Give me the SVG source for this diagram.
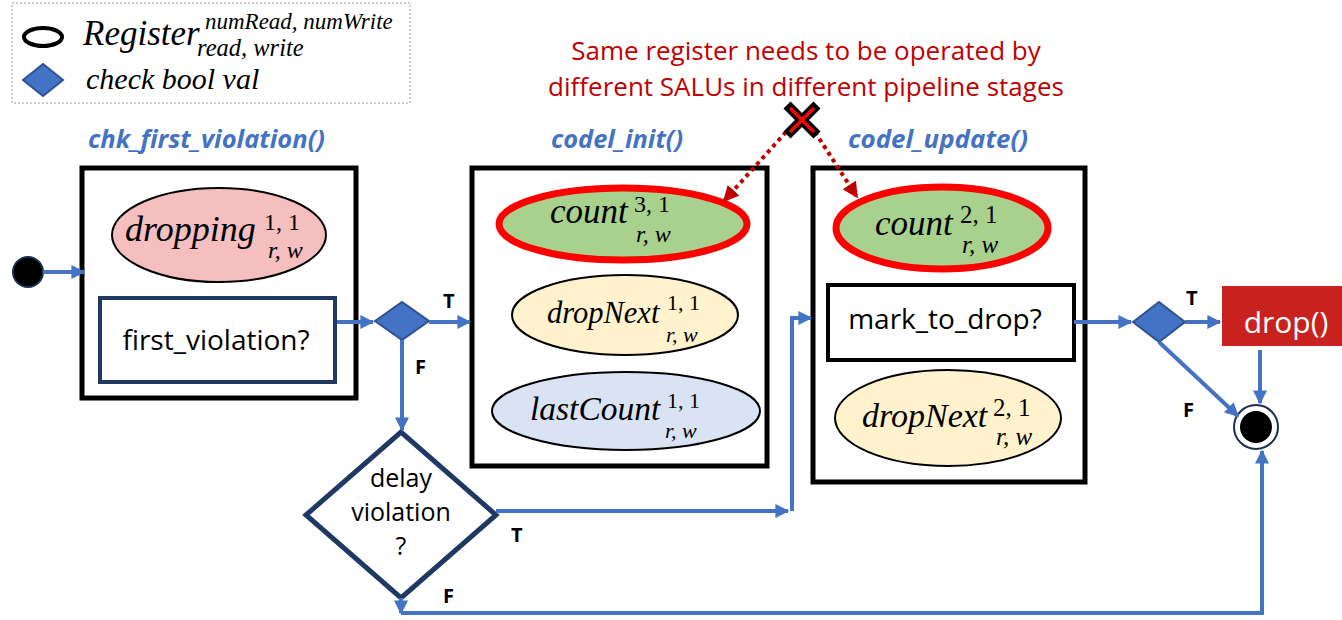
<svg xmlns="http://www.w3.org/2000/svg" width="1342" height="620" viewBox="0 0 1342 620">
  <defs>
    <marker id="arrowBlue" viewBox="0 0 10 10" refX="9" refY="5" markerUnits="userSpaceOnUse" markerWidth="15" markerHeight="14" orient="auto">
      <path d="M0,0 L10,5 L0,10 z" fill="#4472C4"/>
    </marker>
    <marker id="arrowRed" viewBox="0 0 10 10" refX="9" refY="5" markerUnits="userSpaceOnUse" markerWidth="16" markerHeight="16" orient="auto">
      <path d="M0,0 L10,5 L0,10 z" fill="#C00000"/>
    </marker>
  </defs>
  <style>
    .box{fill:#fff;stroke:#000;stroke-width:5}
    .reg{stroke:#000;stroke-width:2}
    .hot{stroke:#FF0000;stroke-width:7}
    .math{font-family:"Liberation Serif","Times New Roman",serif;font-style:italic;fill:#000}
    .up{font-style:normal}
    .sans{font-family:"Open Sans","Liberation Sans",sans-serif;fill:#000}
    .note{font-family:"Open Sans","Liberation Sans",sans-serif;fill:#C00000;font-size:26px}
    .fn{font-family:"Open Sans","Liberation Sans",sans-serif;font-weight:bold;font-style:italic;fill:#4472C4;font-size:25px}
    .flow{fill:none;stroke:#4472C4;stroke-width:4}
    .tf{font-family:"Open Sans","Liberation Sans",sans-serif;font-weight:bold;font-size:20px;fill:#000}
    .chk{fill:#4472C4;stroke:#2F528F;stroke-width:2}
    .conflict{fill:none;stroke:#C00000;stroke-width:4;stroke-dasharray:4 4}
  </style>

  <!-- legend -->
  <g id="legend">
    <rect x="12" y="3" width="398" height="100" fill="#fff" stroke="#9a9a9a" stroke-width="1" stroke-dasharray="2 2"/>
    <ellipse cx="43" cy="37" rx="19" ry="9" fill="#fff" stroke="#000" stroke-width="4"/>
    <text class="math" x="83" y="45" font-size="35">Register</text>
    <text class="math" x="205" y="29" font-size="23">numRead, numWrite</text>
    <text class="math" x="197" y="56" font-size="24.5">read, write</text>
    <polygon points="23,80 43,64 63,80 43,96" class="chk"/>
    <text class="math" x="86" y="89" font-size="30">check bool val</text>
  </g>

  <!-- conflict note -->
  <g id="note">
    <text class="note" x="806" y="60" text-anchor="middle">Same register needs to be operated by</text>
    <text class="note" x="806" y="96" text-anchor="middle">different SALUs in different pipeline stages</text>
  </g>

  <!-- function labels -->
  <text class="fn" x="88" y="148" textLength="237" lengthAdjust="spacingAndGlyphs">chk_first_violation()</text>
  <text class="fn" x="551" y="148" textLength="132" lengthAdjust="spacingAndGlyphs">codel_init()</text>
  <text class="fn" x="848" y="148" textLength="180" lengthAdjust="spacingAndGlyphs">codel_update()</text>

  <!-- start node -->
  <g id="start">
    <circle cx="28" cy="272" r="15" fill="#000" stroke="#1F2D4F" stroke-width="2"/>
  </g>

  <!-- stage 1 -->
  <g id="chk_first_violation">
    <rect class="box" x="82" y="168" width="274" height="230"/>
    <ellipse class="reg" cx="219" cy="235" rx="107" ry="47" fill="#F5BFBF"/>
    <text class="math" x="125" y="241" font-size="36">dropping</text>
    <text class="math up" x="264" y="230" font-size="24">1, 1</text>
    <text class="math" x="268" y="258" font-size="24">r, w</text>
    <rect x="100" y="298" width="235" height="84" fill="#fff" stroke="#203864" stroke-width="4"/>
    <text class="sans" x="216" y="350" font-size="28" text-anchor="middle">first_violation?</text>
  </g>

  <g id="check1">
    <polygon points="375,321 402,302 429,321 402,340" class="chk"/>
  </g>

  <g id="delay_violation">
    <polygon points="306,515 401,432 496,515 401,598" fill="#fff" stroke="#203864" stroke-width="5"/>
    <text class="sans" x="401" y="487" font-size="25" text-anchor="middle">delay</text>
    <text class="sans" x="401" y="521" font-size="25" text-anchor="middle">violation</text>
    <text class="sans" x="401" y="555" font-size="25" text-anchor="middle">?</text>
  </g>

  <!-- stage 2 -->
  <g id="codel_init">
    <rect class="box" x="472" y="168" width="295" height="298"/>
    <ellipse class="hot" cx="623" cy="224" rx="124" ry="36" fill="#A9D18E"/>
    <text class="math" x="550" y="223" font-size="35">count</text>
    <text class="math up" x="634" y="212" font-size="24">3, 1</text>
    <text class="math" x="636" y="242" font-size="24">r, w</text>
    <ellipse class="reg" cx="625" cy="315" rx="113" ry="40" fill="#FFF2CC"/>
    <text class="math" x="547" y="323" font-size="30.5">dropNext</text>
    <text class="math up" x="667" y="310" font-size="22">1, 1</text>
    <text class="math" x="666" y="342" font-size="22">r, w</text>
    <ellipse class="reg" cx="626" cy="411" rx="134" ry="39" fill="#DAE3F3"/>
    <text class="math" x="530" y="420" font-size="33.5">lastCount</text>
    <text class="math up" x="667" y="408" font-size="22">1, 1</text>
    <text class="math" x="665" y="438" font-size="22">r, w</text>
  </g>

  <!-- stage 3 -->
  <g id="codel_update">
    <rect class="box" x="813" y="168" width="272" height="314"/>
    <ellipse class="hot" cx="942" cy="228" rx="106" ry="41" fill="#A9D18E"/>
    <text class="math" x="875" y="235" font-size="35">count</text>
    <text class="math up" x="960" y="223" font-size="25">2, 1</text>
    <text class="math" x="962" y="253" font-size="25">r, w</text>
    <rect x="828" y="285" width="246" height="75" fill="#fff" stroke="#000" stroke-width="4"/>
    <text class="sans" x="945" y="329" font-size="28" text-anchor="middle">mark_to_drop?</text>
    <ellipse class="reg" cx="948" cy="418" rx="113" ry="48" fill="#FFF2CC"/>
    <text class="math" x="862" y="427" font-size="34">dropNext</text>
    <text class="math up" x="993" y="416" font-size="25">2, 1</text>
    <text class="math" x="996" y="445" font-size="25">r, w</text>
  </g>

  <g id="check2">
    <polygon points="1133,322 1159,302 1185,322 1159,342" class="chk"/>
  </g>

  <g id="drop">
    <rect x="1222" y="286" width="120" height="60" fill="#C9211E"/>
    <text class="sans" x="1286" y="333" font-size="30" style="fill:#fff" text-anchor="middle">drop()</text>
  </g>

  <g id="end">
    <circle cx="1256" cy="427" r="22" fill="#fff" stroke="#1F2D4F" stroke-width="2"/>
    <circle cx="1256" cy="427" r="16" fill="#000"/>
  </g>

  <!-- connectors -->
  <g id="connectors">
    <path class="flow" d="M43,272 H84" marker-end="url(#arrowBlue)"/>
    <path class="flow" d="M337,322 H373" marker-end="url(#arrowBlue)"/>
    <path class="flow" d="M429,322 H470" marker-end="url(#arrowBlue)"/>
    <path class="flow" d="M402,340 V430" marker-end="url(#arrowBlue)"/>
    <path class="flow" d="M496,511 H788" marker-end="url(#arrowBlue)"/>
    <path class="flow" d="M792,511 V318 H811" marker-end="url(#arrowBlue)"/>
    <path class="flow" d="M401,598 V613" marker-end="url(#arrowBlue)"/>
    <path class="flow" d="M401,613 H1262 V451" marker-end="url(#arrowBlue)"/>
    <path class="flow" d="M1074,322 H1131" marker-end="url(#arrowBlue)"/>
    <path class="flow" d="M1185,322 H1220" marker-end="url(#arrowBlue)"/>
    <path class="flow" d="M1260,350 V403" marker-end="url(#arrowBlue)"/>
    <path class="flow" d="M1159,342 L1238,416" marker-end="url(#arrowBlue)"/>
    <path class="conflict" d="M786,132 L724,201" marker-end="url(#arrowRed)"/>
    <path class="conflict" d="M815,132 L857,197" marker-end="url(#arrowRed)"/>
  </g>

  <!-- branch labels -->
  <text class="tf" x="443" y="308">T</text>
  <text class="tf" x="415" y="374">F</text>
  <text class="tf" x="511" y="542">T</text>
  <text class="tf" x="443" y="603">F</text>
  <text class="tf" x="1186" y="305">T</text>
  <text class="tf" x="1183" y="417">F</text>

  <!-- conflict mark -->
  <g id="cross">
    <path d="M787,105 L817,135 M817,105 L787,135" stroke="#000" stroke-width="10"/>
    <path d="M790,108 L814,132 M814,108 L790,132" stroke="#FF0000" stroke-width="3.5"/>
  </g>
</svg>
